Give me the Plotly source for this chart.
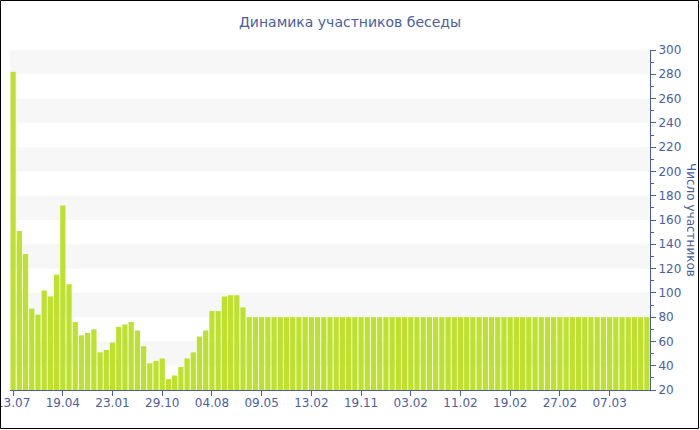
import plotly.graph_objects as go

# Data
values = [282, 151, 132, 87, 82, 102, 97, 115, 172, 107,
          76, 65, 67, 70, 51, 53, 59, 72, 74, 76,
          69, 56, 42, 44, 46, 29, 32, 39, 46, 51,
          64, 69, 85, 85, 97, 98, 98, 88] + [80] * 65
tick_labels = ["13.07", "19.04", "23.01", "29.10", "04.08", "09.05", "13.02",
               "19.11", "03.02", "11.02", "19.02", "27.02", "07.03"]
tick_step = 8
title_text = "Динамика участников беседы"
y_title = "Число участников"

idx = list(range(len(values)))
tick_pos = [i * tick_step for i in range(len(tick_labels))]

AX = "#4a5ea0"
FONT = "DejaVu Sans"

fig = go.Figure()
fig.add_trace(go.Bar(
    x=idx, y=values,
    marker=dict(color="#bde12e", line=dict(width=0)),
    width=0.84,
    hoverinfo="y",
))

L, R, T, B = 10, 50, 50, 40
W, H = 700, 430
pw, ph = W - L - R, H - T - B

shapes = []
for lo in range(40, 300, 40):
    shapes.append(dict(type="rect", xref="paper", yref="y", x0=0, x1=1, y0=lo, y1=lo + 20,
                       fillcolor="#f7f7f7", line=dict(width=0), layer="below"))
# outer border
shapes.append(dict(type="rect", xref="paper", yref="paper",
                   x0=(0.5 - L) / pw, x1=(698.5 - L) / pw,
                   y0=(H - B - 428.5) / ph, y1=(H - B - 0.5) / ph,
                   line=dict(color="black", width=1), fillcolor="rgba(0,0,0,0)"))

fig.update_layout(
    width=W, height=H,
    margin=dict(l=L, r=R, t=T, b=B, autoexpand=False),
    paper_bgcolor="white", plot_bgcolor="white",
    showlegend=False,
    font=dict(family=FONT, color=AX, size=12),
    title=dict(text=title_text, x=0.5, xanchor="center", y=1 - 22 / H, yanchor="middle",
               font=dict(family=FONT, size=14, color=AX)),
    shapes=shapes,
    xaxis=dict(
        range=[-0.5, len(values) - 0.5],
        tickmode="array", tickvals=tick_pos, ticktext=tick_labels,
        ticks="outside", ticklen=5, tickcolor=AX, tickwidth=1,
        showline=True, linecolor=AX, linewidth=1,
        showgrid=False, zeroline=False,
        tickfont=dict(family=FONT, size=12, color=AX),
        ticklabeloverflow="allow",
        ticklabelstandoff=-3,
        automargin=False,
        fixedrange=True,
    ),
    yaxis=dict(
        side="right", range=[20, 300], dtick=20, tick0=0,
        ticks="outside", ticklen=5, tickcolor=AX, tickwidth=1,
        minor=dict(dtick=10, ticks="outside", ticklen=3, tickcolor=AX, showgrid=False),
        showline=True, linecolor=AX, linewidth=1,
        showgrid=False, zeroline=False,
        tickfont=dict(family=FONT, size=12, color=AX),
        automargin=False,
        fixedrange=True,
    ),
    annotations=[dict(text=y_title, xref="paper", yref="paper",
                      x=(691 - L) / pw, y=0.5, xanchor="center", yanchor="middle",
                      textangle=90, showarrow=False,
                      font=dict(family=FONT, size=12, color=AX))],
)

fig.write_html("out.html", config={"displayModeBar": False},
               post_script="document.body.style.margin='0';document.body.style.overflow='hidden';")
